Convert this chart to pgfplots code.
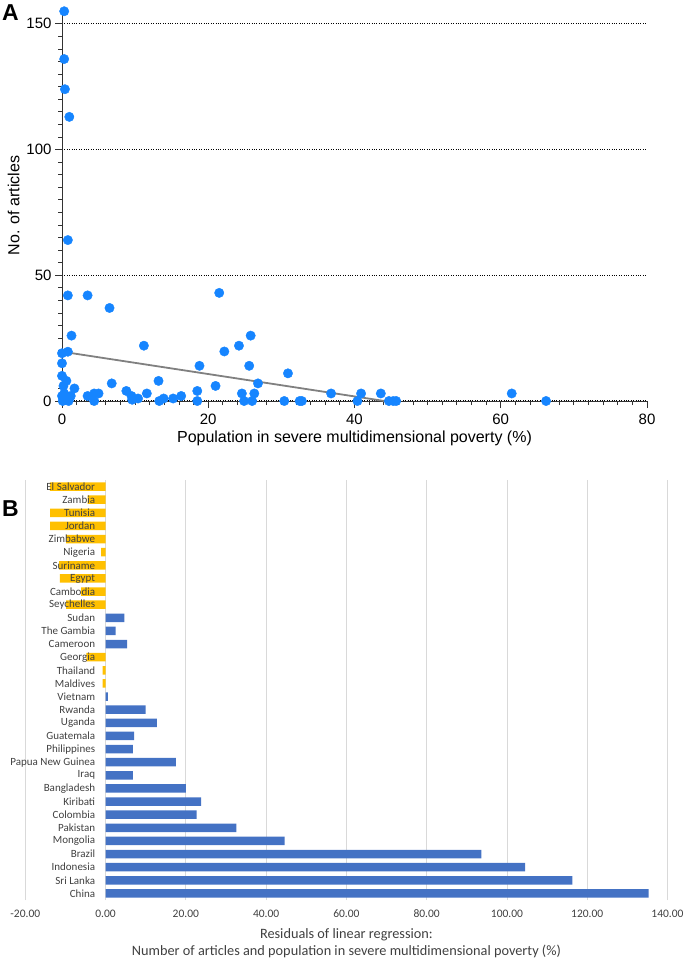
\documentclass[border=0pt]{standalone}
\usepackage{pgfplots}
\pgfplotsset{compat=1.18}
\usepackage{fontspec}
\setmainfont{Liberation Sans}
\newfontfamily\calibri{Carlito}
\definecolor{ptblue}{RGB}{22,133,255}
\definecolor{barblue}{RGB}{68,114,196}
\definecolor{barorange}{RGB}{255,192,0}
\definecolor{lblgray}{RGB}{64,64,64}
\definecolor{gridgray}{RGB}{217,217,217}

\pgfplotstableread{
x y
0.3 155
0.3 136
0.4 124
1.0 113
0.8 64
0.8 42
3.5 42
6.5 37
21.5 43
1.3 26
25.8 26
11.2 22
24.2 22
0 19
0.8 19.6
22.2 19.7
0 15
18.8 14
25.6 14
30.9 11
0 10
0.6 8
0.2 6
1.7 5
6.8 7
13.2 8
21.0 6
26.8 7
3.5 2
4.4 3
5.0 3
4.4 0
8.8 4
9.5 2
9.6 0.5
10.4 1
11.6 3
13.3 0
13.9 1
15.2 1
16.3 2
18.5 4
18.5 0
24.6 3
24.9 0
26.0 0
26.3 3
30.4 0
32.5 0
32.8 0
36.8 3
40.9 3
40.4 0
43.6 3
44.7 0
45.3 0
45.7 0
61.5 3
66.2 0
0.1 0
0.2 1
0.5 2
0.9 0
1.2 2
0.3 3
0.6 0.5
1.0 1
0 2
}\scatterdata

\pgfplotstableread{
x y
0.5 19.4
44.1 0
}\fitline

\pgfplotstableread{
idx val
16 -0.75
17 -0.75
18 -4.8
22 -9.8
23 -6.1
24 -11.4
25 -11.6
26 -1.1
27 -9.8
28 -13.8
29 -13.8
30 -4.5
31 -13.9
}\negdata

\pgfplotstableread{
idx val
0 135.3
1 116.3
2 104.5
3 93.6
4 44.6
5 32.6
6 22.7
7 23.8
8 20.0
9 6.8
10 17.5
11 6.8
12 7.1
13 12.8
14 10.0
15 0.6
19 5.4
20 2.5
21 4.7
}\posdata

\pgfplotsset{
  panelB/.style={
    at={(25.3pt,-900pt)}, anchor=south west, scale only axis,
    width=642.2pt, height=420pt,
    xmin=-20, xmax=140, ymin=-0.5, ymax=31.5,
    xbar, bar width=8.5pt, bar shift=0pt,
    axis line style={draw=none},
    major tick length=0pt,
    clip=false,
  },
}

\begin{document}
\begin{tikzpicture}
\path[use as bounding box] (0pt,0pt) rectangle (685pt,-962pt);
\node[font=\fontsize{23}{25}\selectfont\bfseries] at (10.5pt,-13pt) {A};
\node[font=\fontsize{23}{25}\selectfont\bfseries] at (10.5pt,-509pt) {B};

\begin{axis}[
  at={(62pt,-401pt)}, anchor=south west, scale only axis,
  width=585pt, height=391pt,
  xmin=0, xmax=80, ymin=0, ymax=155.5,
  axis lines*=left,
  axis line style={line width=1pt, color=black!80},
  xtick={0,20,40,60,80},
  minor xtick={2,4,...,18,22,24,...,38,42,44,...,58,62,64,...,78},
  ytick={0,50,100,150},
  minor ytick={5,10,...,45,55,60,...,95,105,110,...,145},
  tick align=outside,
  major tick length=7pt, minor tick length=4pt,
  every tick/.style={color=black!80, line width=0.9pt},
  ymajorgrids,
  grid style={dotted, color=black, line width=1.1pt},
  tick label style={font=\fontsize{15}{17}\selectfont},
  xticklabel style={yshift=-2pt},
  /pgf/number format/assume math mode=true,
  xlabel={Population in severe multidimensional poverty (\%)},
  ylabel={No. of articles},
  label style={font=\fontsize{16}{18}\selectfont},
  clip=false,
]
\addplot[color=black!50, line width=1.8pt] table[x=x,y=y] {\fitline};
\addplot[only marks, mark=*, mark size=4.7pt, color=ptblue, mark options={draw=none, fill=ptblue}] table[x=x,y=y] {\scatterdata};
\end{axis}

% Panel B: grid, bars, x tick labels, title
\begin{axis}[
  panelB,
  xtick={-20,0,...,140},
  xmajorgrids,
  grid style={color=gridgray, line width=0.9pt},
  xticklabel={\pgfmathprintnumber[fixed,fixed zerofill,precision=2,assume math mode=true]{\tick}},
  xticklabel style={font=\calibri\fontsize{11.5}{13}\selectfont, text=lblgray, yshift=-6pt},
  ytick=\empty,
  xlabel={Residuals of linear regression:\\Number of articles and population in severe multidimensional poverty (\%)},
  xlabel style={align=center, font=\calibri\fontsize{14.3}{17}\selectfont, text=lblgray, yshift=-4pt},
]
\addplot[fill=barorange, draw=none] table[x=val,y=idx] {\negdata};
\addplot[fill=barblue, draw=none] table[x=val,y=idx] {\posdata};
\end{axis}

% Panel B: category labels drawn over the bars
\begin{axis}[
  panelB,
  xtick=\empty,
  ytick={0,...,31},
  yticklabels={China,Sri Lanka,Indonesia,Brazil,Mongolia,Pakistan,Colombia,Kiribati,Bangladesh,Iraq,Papua New Guinea,Philippines,Guatemala,Uganda,Rwanda,Vietnam,Maldives,Thailand,Georgia,Cameroon,The Gambia,Sudan,Seychelles,Cambodia,Egypt,Suriname,Nigeria,Zimbabwe,Jordan,Tunisia,Zambia,El Salvador},
  yticklabel style={font=\calibri\fontsize{11}{13}\selectfont, text=lblgray, anchor=east, inner sep=0pt, xshift=70pt},
]
\addplot[draw=none, fill=none] table[x=val,y=idx] {\posdata};
\end{axis}
\end{tikzpicture}
\end{document}
